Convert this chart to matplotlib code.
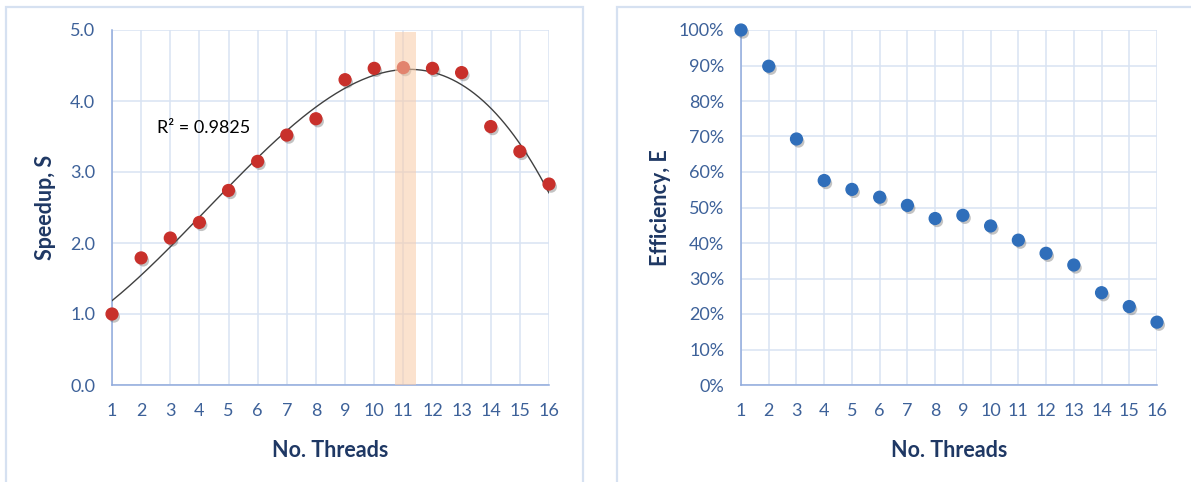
import numpy as np
import matplotlib.pyplot as plt
import matplotlib.patheffects as pe
from matplotlib.patches import Rectangle
from matplotlib.ticker import PercentFormatter

# Data
threads = [1, 2, 3, 4, 5, 6, 7, 8, 9, 10, 11, 12, 13, 14, 15, 16]
speedup = [1.00, 1.79, 2.07, 2.29, 2.74, 3.15, 3.52, 3.75, 4.30, 4.46,
           4.47, 4.46, 4.40, 3.64, 3.29, 2.83]
efficiency = [1.000, 0.898, 0.693, 0.576, 0.551, 0.529, 0.506, 0.469,
              0.478, 0.448, 0.408, 0.371, 0.338, 0.260, 0.221, 0.177]
best_threads = 11

plt.rcParams['font.family'] = ['Lato', 'DejaVu Sans']

tick_color = '#3D6199'
label_color = '#1F3864'
grid_color = '#D9E3F3'
spine_color = '#8FAADC'

fig = plt.figure(figsize=(11.91, 4.82), dpi=100)

# panel frames like the spreadsheet chart boxes
for x0, x1 in [(6, 583), (617, 1300)]:
    fig.patches.append(Rectangle((x0 / 1191, -0.1), (x1 - x0) / 1191, 1.1 - 7 / 482,
                                 transform=fig.transFigure, fill=False,
                                 edgecolor='#D6E1F1', linewidth=1.6))

ax1 = fig.add_axes([112 / 1191, 1 - 385 / 482, 437 / 1191, 355 / 482])
ax2 = fig.add_axes([741 / 1191, 1 - 385 / 482, 416 / 1191, 355 / 482])

shadow = [pe.SimplePatchShadow(offset=(1.5, -2), shadow_rgbFace='#555555', alpha=0.35),
          pe.Normal()]

def style(ax):
    ax.set_xlim(1, 16)
    ax.set_xticks(threads)
    ax.grid(True, color=grid_color, linewidth=1.1)
    ax.set_axisbelow(True)
    for s in ['top', 'right']:
        ax.spines[s].set_visible(False)
    for s in ['left', 'bottom']:
        ax.spines[s].set_color(spine_color)
        ax.spines[s].set_linewidth(1.1)
    ax.tick_params(length=0, labelsize=13, labelcolor=tick_color)
    ax.tick_params(axis='x', pad=13)
    ax.tick_params(axis='y', pad=12)
    ax.set_xlabel('No. Threads', fontsize=15.5, fontweight='bold', color=label_color)
    ax.xaxis.set_label_coords(0.5, -0.155)

# Speedup
style(ax1)
ax1.set_ylim(0, 5)
ax1.set_yticks(np.arange(0, 5.01, 1.0))
ax1.set_yticklabels([f'{v:.1f}' for v in np.arange(0, 5.01, 1.0)])
coef = np.polyfit(threads, speedup, 3)
xs = np.linspace(1, 16, 200)
ax1.plot(xs, np.polyval(coef, xs), color='#404040', linewidth=1.0, zorder=3)
ax1.plot(threads, speedup, 'o', color='#C8302B', markersize=8.5, clip_on=False,
         zorder=4, path_effects=shadow)
ax1.axvspan(best_threads - 0.3, best_threads + 0.45, ymax=0.995,
            color='#F9CBA7', alpha=0.55, linewidth=0, zorder=5)
ax1.text(2.55, 3.62, 'R² = 0.9825', fontsize=13, color='black', va='center')
ax1.set_ylabel('Speedup, S', fontsize=15.5, fontweight='bold', color=label_color)
ax1.yaxis.set_label_coords(-0.128, 0.5)

# Efficiency
style(ax2)
ax2.set_ylim(0, 1)
ax2.set_yticks(np.arange(0, 1.01, 0.1))
ax2.yaxis.set_major_formatter(PercentFormatter(1.0, decimals=0))
ax2.plot(threads, efficiency, 'o', color='#2F6EBA', markersize=8.5, clip_on=False,
         zorder=4, path_effects=shadow)
ax2.set_ylabel('Efficiency, E', fontsize=15.5, fontweight='bold', color=label_color)
ax2.yaxis.set_label_coords(-0.168, 0.5)

fig.savefig('out.png', dpi=100)
